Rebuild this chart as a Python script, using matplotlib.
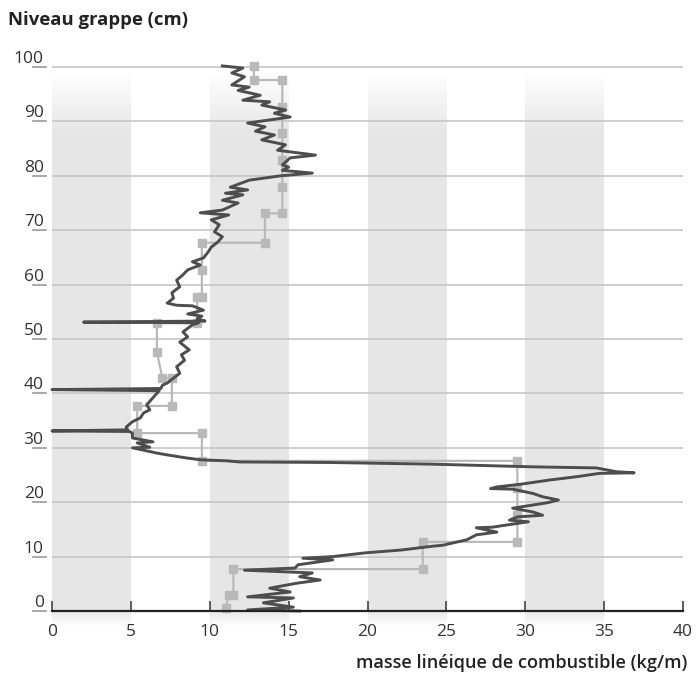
import numpy as np
import matplotlib
matplotlib.use("Agg")
import matplotlib.pyplot as plt
import matplotlib.transforms as mtransforms

plt.rcParams['font.family'] = ['Open Sans', 'DejaVu Sans']

# ---------------- data ----------------
# measured profile (dark line): level (cm) and linear fuel mass (kg/m)
profile_level = [0.0, 0.2, 0.7, 1.5, 2.4, 2.6, 3.5, 4.2, 5.1, 5.7, 6.3, 7.0, 7.5, 7.9, 8.5,
                 9.4, 9.7, 10.0, 10.7, 11.2, 11.9, 12.1, 13.1, 14.0, 14.5, 15.3, 15.4, 15.8,
                 16.4, 16.7, 17.3, 17.6, 18.2, 18.9, 19.5, 19.9, 20.4, 21.0, 21.6, 22.4, 22.5,
                 22.8, 23.3, 23.8, 24.1, 24.7, 25.3, 25.4, 25.6, 26.3, 26.5, 27.0, 27.3, 27.4,
                 27.6, 27.8, 28.1, 28.7, 29.0, 30.0, 30.1, 30.9, 31.1, 31.8, 32.7, 33.0, 33.1,
                 33.3, 33.8, 34.8, 35.5, 36.4, 37.0, 37.9, 39.2, 40.5, 40.7, 40.9, 41.5, 41.9,
                 42.8, 43.7, 44.9, 46.1, 47.1, 48.0, 49.4, 50.4, 51.3, 52.6, 53.0, 53.1, 53.3,
                 53.7, 54.2, 54.6, 55.3, 56.1, 56.2, 56.6, 57.5, 58.5, 59.6, 60.8, 61.8, 62.7,
                 63.6, 64.2, 64.9, 66.0, 66.9, 67.8, 68.8, 69.7, 71.0, 71.9, 72.8, 73.2, 73.7,
                 75.0, 75.5, 76.5, 76.8, 77.4, 77.9, 79.2, 80.0, 80.5, 81.0, 81.6, 82.0, 83.3,
                 83.8, 84.7, 85.7, 86.6, 87.5, 88.2, 89.0, 89.7, 90.8, 91.5, 92.1, 93.0, 93.6,
                 93.9, 94.8, 95.7, 96.3, 96.7, 98.2, 98.9, 99.8, 100.2]
profile_mass = [15.7, 12.4, 15.3, 13.4, 15.3, 12.4, 15.1, 13.8, 15.5, 17.0, 15.7, 16.5, 12.2, 15.4, 15.6,
                17.8, 15.9, 17.8, 19.9, 22.1, 24.1, 24.8, 26.3, 26.9, 28.2, 26.9, 27.9, 28.8,
                30.2, 29.0, 29.5, 31.1, 30.5, 29.2, 30.5, 31.4, 32.1, 31.1, 30.5, 29.2, 27.8,
                28.2, 29.7, 30.9, 31.6, 33.3, 34.7, 36.9, 35.8, 34.5, 30.5, 24.0, 17.6, 11.9,
                11.1, 9.4, 8.6, 7.3, 6.7, 5.1, 6.2, 5.4, 6.4, 5.1, 5.1, 4.9, 0.0,
                4.8, 4.7, 5.1, 5.6, 5.8, 6.2, 6.0, 6.4, 6.8, 0.0, 6.9, 7.0, 7.3,
                7.7, 8.1, 7.9, 8.4, 8.2, 8.7, 8.1, 8.6, 8.3, 8.9, 9.3, 2.0, 9.7,
                9.2, 9.5, 8.6, 9.6, 8.9, 7.9, 7.3, 7.7, 7.6, 8.1, 7.9, 8.3, 8.6,
                9.4, 8.9, 9.6, 9.9, 10.1, 10.5, 10.8, 10.3, 10.6, 10.1, 11.2, 9.4, 10.8,
                11.8, 10.8, 12.1, 11.0, 12.4, 11.3, 12.5, 14.5, 16.5, 14.6, 15.0, 14.6, 15.1,
                16.7, 14.3, 14.8, 13.3, 14.1, 12.9, 13.5, 12.4, 15.1, 14.1, 14.8, 13.3, 13.8,
                12.1, 13.2, 11.8, 12.5, 11.4, 12.2, 11.4, 12.1, 10.8]

# binned estimate (light grey line with square markers)
step_level = [0.5, 2.9, 2.9, 7.7, 7.7, 12.7, 12.7, 17.6, 22.6, 27.6, 27.6, 32.7, 32.7, 37.7,
              37.7, 42.8, 42.8, 47.6, 52.9, 52.9, 57.7, 57.7, 62.7, 67.7, 67.7, 73.1, 73.1,
              77.9, 82.9, 87.9, 92.6, 97.6, 97.6, 100.2]
step_mass = [11.0, 11.2, 11.5, 11.5, 23.5, 23.5, 29.5, 29.5, 29.5, 29.5, 9.5, 9.5, 5.4, 5.4,
             7.6, 7.6, 7.0, 6.65, 6.65, 9.2, 9.2, 9.5, 9.5, 9.5, 13.5, 13.5, 14.6,
             14.6, 14.6, 14.6, 14.6, 14.6, 12.8, 12.8]

x_ticks = [0, 5, 10, 15, 20, 25, 30, 35, 40]
y_ticks = [0, 10, 20, 30, 40, 50, 60, 70, 80, 90, 100]
band_starts = [0, 10, 20, 30]
band_width = 5

# ---------------- figure ----------------
W, H = 699, 675
fig = plt.figure(figsize=(W / 100, H / 100), dpi=100)
ymax = 101
ax = fig.add_axes([52 / W, 1 - 611 / H, (683 - 52) / W, (611 - 67) / H * ymax / 100])

# gradient bands
nrow = 300
yb0, yb1 = -3.0, 99.0
yy = np.linspace(yb0, yb1, nrow)
alpha = np.ones_like(yy)
alpha = np.where(yy < 0, np.clip((yy - yb0) / (0 - yb0), 0, 1), alpha)
alpha = np.where(yy > 88, np.clip((yb1 - yy) / (yb1 - 88), 0, 1), alpha)
img = np.zeros((nrow, 1, 4))
img[:, 0, :3] = 0.905
img[:, 0, 3] = alpha
for x0 in band_starts:
    ax.imshow(img, extent=[x0, x0 + band_width, yb0, yb1], origin='lower',
              aspect='auto', zorder=0, clip_on=False, interpolation='bilinear')

# horizontal grid
for yv in y_ticks[1:]:
    ax.axhline(yv, color='#c6c6c6', lw=1.2, zorder=1)

ax.plot(step_mass, step_level, color='#b9b9b9', lw=1.6, marker='s', ms=5.5,
        mfc='#b9b9b9', mec='#b9b9b9', zorder=3, clip_on=False)
ax.plot(profile_mass, profile_level, color='#4d4d4d', lw=2.1, zorder=4,
        solid_joinstyle='round', clip_on=False)

ax.set_xlim(0, 40)
ax.set_ylim(0, ymax)

for s in ['top', 'right', 'left']:
    ax.spines[s].set_visible(False)
ax.spines['bottom'].set_color('#222222')
ax.spines['bottom'].set_linewidth(1.6)
ax.spines['bottom'].set_zorder(5)

ax.set_xticks(x_ticks)
ax.set_xticklabels([str(v) for v in x_ticks])
ax.tick_params(axis='x', direction='in', length=7, width=1.1, color='#333333',
               labelsize=12.5, labelcolor='#333333', pad=9)

ax.set_yticks(y_ticks)
ax.set_yticklabels([str(v) for v in y_ticks])
ax.tick_params(axis='y', length=0, labelsize=12.5, labelcolor='#333333', pad=6)
off = mtransforms.ScaledTranslation(0, 8 / 100, fig.dpi_scale_trans)
for lab in ax.get_yticklabels():
    lab.set_transform(lab.get_transform() + off)
    lab.set_verticalalignment('center')

# small dashes under y labels
btr = mtransforms.blended_transform_factory(fig.transFigure, ax.transData)
for yv in y_ticks:
    ax.plot([33 / W, 46 / W], [yv, yv], transform=btr, color='#9a9a9a', lw=1.2,
            clip_on=False, zorder=2)

fig.text(8 / W, 1 - 20 / H, "Niveau grappe (cm)", fontsize=13.3, fontweight='bold',
         color='#222222', va='center', ha='left')
fig.text(687 / W, 1 - 663 / H, "masse linéique de combustible (kg/m)", fontsize=13.1,
         fontweight='semibold', color='#222222', va='center', ha='right')

fig.savefig("out.png", dpi=100)
